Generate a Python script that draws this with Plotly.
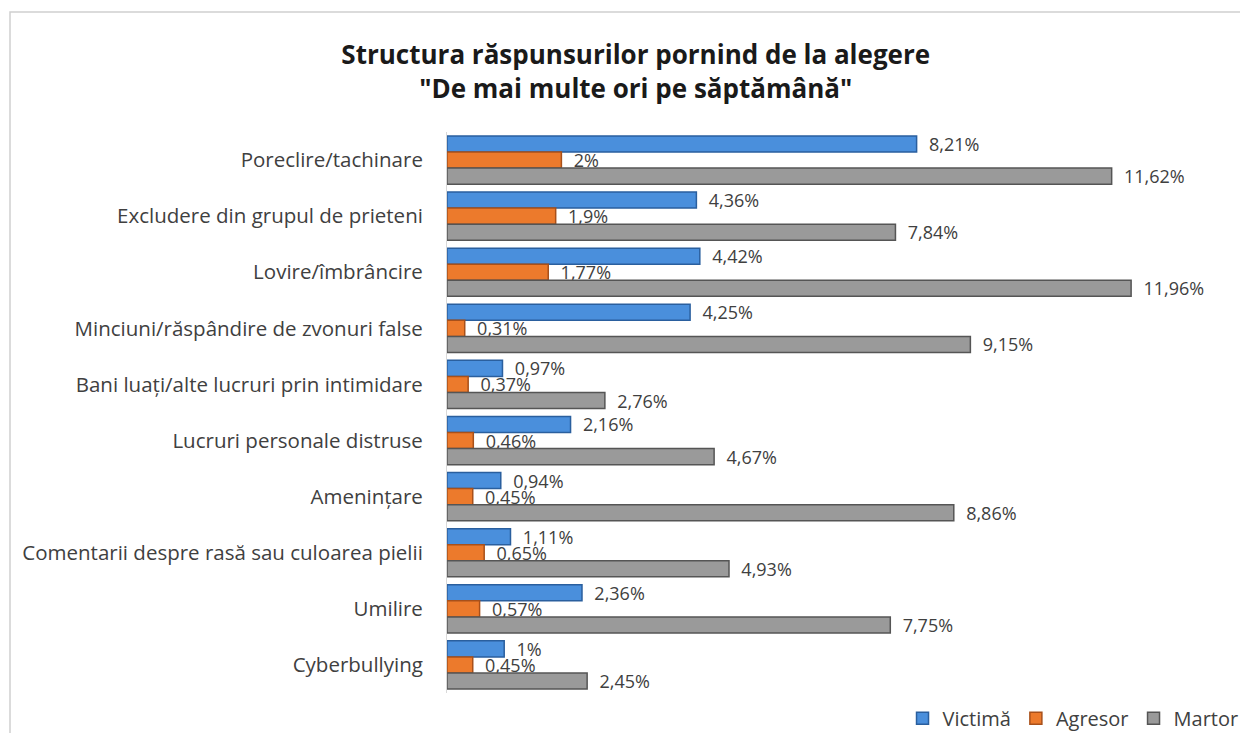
import plotly.graph_objects as go

# categories (top to bottom)
categorii = [
    "Poreclire/tachinare",
    "Excludere din grupul de prieteni",
    "Lovire/îmbrâncire",
    "Minciuni/răspândire de zvonuri false",
    "Bani luați/alte lucruri prin intimidare",
    "Lucruri personale distruse",
    "Amenințare",
    "Comentarii despre rasă sau culoarea pielii",
    "Umilire",
    "Cyberbullying",
]
victima = [8.21, 4.36, 4.42, 4.25, 0.97, 2.16, 0.94, 1.11, 2.36, 1]
agresor = [2, 1.9, 1.77, 0.31, 0.37, 0.46, 0.45, 0.65, 0.57, 0.45]
martor = [11.62, 7.84, 11.96, 9.15, 2.76, 4.67, 8.86, 4.93, 7.75, 2.45]


def fmt(v):
    return "  " + f"{v:g}".replace(".", ",") + "%"


serii = [
    ("Victimă", victima, "#4a8fdc", "#2a5f9e"),
    ("Agresor", agresor, "#ec7a2c", "#a8501a"),
    ("Martor", martor, "#9a9a9a", "#555555"),
]

fig = go.Figure()
for nume, vals, col, margine in serii:
    fig.add_trace(go.Bar(
        y=categorii, x=vals, name=nume, orientation="h",
        marker=dict(color=col, line=dict(color=margine, width=1.5)),
        text=[fmt(v) for v in vals], textposition="outside",
        textfont=dict(size=18, color="#404040"),
        constraintext="none", cliponaxis=False,
    ))

# page has an 8px body margin, so positions are shifted by -8px
fig.update_layout(
    width=1248, height=733,
    margin=dict(l=439, r=56, t=124, b=48, autoexpand=False),
    paper_bgcolor="white", plot_bgcolor="white",
    font=dict(family="Open Sans, Noto Sans, sans-serif", color="#404040"),
    title=dict(
        text="<b>Structura răspunsurilor pornind de la alegere<br>\"De mai multe ori pe săptămână\"</b>",
        x=0.503, xanchor="center", y=0.924, yanchor="middle",
        font=dict(size=26, color="#1a1a1a"),
    ),
    barmode="group", bargap=0.14, bargroupgap=0,
    xaxis=dict(range=[0, 753 / 57.2], visible=False),
    yaxis=dict(autorange="reversed", showline=True, linecolor="#d9d9d9",
               automargin=False, ticks="", ticklabelstandoff=19,
               tickfont=dict(size=20.5, color="#404040")),
    legend=dict(orientation="h", xref="container", yref="container",
                x=0.99, xanchor="right", y=0.031, yanchor="middle",
                font=dict(size=20, color="#404040"), traceorder="normal",
                itemwidth=30),
    shapes=[dict(type="rect", xref="paper", yref="paper",
                 x0=(2 - 439) / 753, x1=(1260 - 439) / 753,
                 y0=(685 - 745) / 561, y1=(685 - 4) / 561,
                 line=dict(color="#d0d0d0", width=1.5), layer="below")],
)

fig.write_html("out.html")
